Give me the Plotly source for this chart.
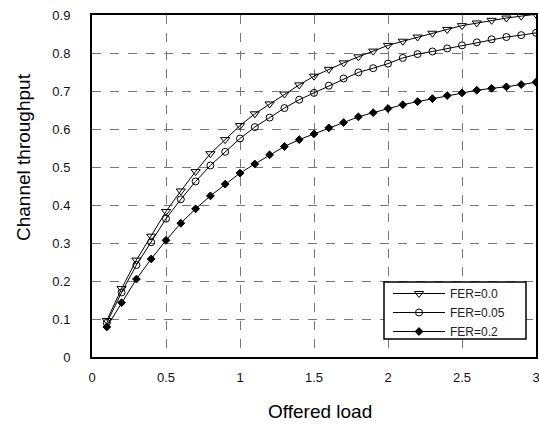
import plotly.graph_objects as go

# Offered load values (x) and channel throughput for each frame error rate
offered_load = [round(0.1 * i, 1) for i in range(1, 31)]

fer_0 = [0.096, 0.180, 0.255, 0.318, 0.383, 0.437, 0.488, 0.535, 0.572, 0.609,
         0.640, 0.666, 0.692, 0.716, 0.739, 0.757, 0.774, 0.790, 0.805, 0.820,
         0.831, 0.842, 0.852, 0.862, 0.872, 0.879, 0.886, 0.892, 0.897, 0.902]

fer_005 = [0.090, 0.170, 0.242, 0.302, 0.364, 0.415, 0.462, 0.504, 0.540, 0.575,
           0.605, 0.630, 0.655, 0.677, 0.695, 0.714, 0.733, 0.749, 0.760, 0.772,
           0.787, 0.797, 0.804, 0.812, 0.820, 0.828, 0.836, 0.842, 0.847, 0.853]

fer_02 = [0.079, 0.143, 0.205, 0.258, 0.307, 0.352, 0.390, 0.424, 0.455, 0.484,
          0.508, 0.532, 0.554, 0.572, 0.587, 0.603, 0.617, 0.632, 0.643, 0.654,
          0.664, 0.672, 0.680, 0.688, 0.695, 0.702, 0.707, 0.711, 0.717, 0.723]

x_ticks = [0, 0.5, 1, 1.5, 2, 2.5, 3]
x_tick_text = ["0", "0.5", "1", "1.5", "2", "2.5", "3"]
y_ticks = [0, 0.1, 0.2, 0.3, 0.4, 0.5, 0.6, 0.7, 0.8, 0.9]
y_tick_text = ["0", "0.1", "0.2", "0.3", "0.4", "0.5", "0.6", "0.7", "0.8", "0.9"]

series = [
    ("FER=0.0", fer_0, dict(symbol="triangle-down-open", size=8)),
    ("FER=0.05", fer_005, dict(symbol="circle-open", size=7)),
    ("FER=0.2", fer_02, dict(symbol="diamond", size=6)),
]

FONT = "Liberation Sans, Arial, sans-serif"
W, H = 539, 424
ML, MR, MT, MB = 92, 3, 15, 67
plot_w = W - ML - MR
plot_h = H - MT - MB


def px_x(px):
    """Horizontal pixel position -> paper coordinate."""
    return (px - ML) / plot_w


def px_y(py):
    """Vertical pixel position (from top) -> paper coordinate."""
    return (H - MB - py) / plot_h


fig = go.Figure()
for name, values, marker in series:
    fig.add_trace(go.Scatter(
        x=offered_load, y=values, name=name, mode="lines+markers",
        line=dict(color="black", width=1),
        marker=dict(color="black", line=dict(color="black", width=1), **marker),
    ))

axis_common = dict(
    showgrid=True, gridcolor="#777777", griddash="dash", gridwidth=1,
    showline=True, linecolor="black", linewidth=2, mirror=True,
    zeroline=False, ticks="", color="black", automargin=False,
    ticklabeloverflow="allow",
    tickfont=dict(family=FONT, size=13, color="#111111"),
)

fig.update_layout(
    width=W, height=H,
    margin=dict(l=ML, r=MR, t=MT, b=MB, autoexpand=False),
    paper_bgcolor="white", plot_bgcolor="white",
    font=dict(family=FONT, color="black"),
    xaxis=dict(range=[0, 3], tickvals=x_ticks, ticktext=x_tick_text,
               ticklabelstandoff=7, **axis_common),
    yaxis=dict(range=[0, 0.9], tickvals=y_ticks, ticktext=y_tick_text,
               ticklabelstandoff=17, **axis_common),
    legend=dict(
        x=px_x(388), y=px_y(279), xanchor="left", yanchor="top",
        bgcolor="rgba(0,0,0,0)", borderwidth=0,
        font=dict(family=FONT, size=12, color="#222222"),
        itemwidth=52, tracegroupgap=0,
    ),
    showlegend=True,
)

# Legend frame
fig.add_shape(type="rect", xref="paper", yref="paper",
              x0=px_x(384), x1=px_x(526), y0=px_y(339), y1=px_y(282),
              line=dict(color="black", width=1.5), fillcolor="white", layer="above")

# Axis titles
fig.add_annotation(text="Offered load", xref="paper", yref="paper",
                   x=px_x(320), y=px_y(411),
                   xanchor="center", yanchor="middle", showarrow=False,
                   font=dict(family=FONT, size=19, color="black"))
fig.add_annotation(text="Channel throughput", xref="paper", yref="paper",
                   x=px_x(23.5), y=px_y(157.5),
                   xanchor="center", yanchor="middle", showarrow=False,
                   textangle=-90,
                   font=dict(family=FONT, size=19, color="black"))

fig.write_html("out.html")
